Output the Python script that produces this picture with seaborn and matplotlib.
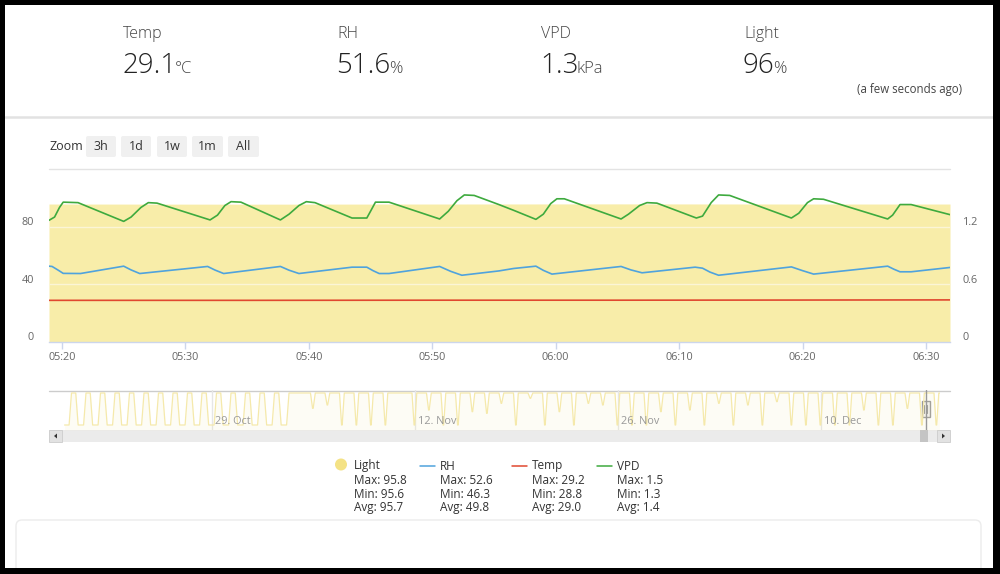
import matplotlib
matplotlib.use("Agg")
import matplotlib.pyplot as plt
import matplotlib.dates as mdates
import matplotlib.transforms as mtransforms
from matplotlib.patches import Rectangle, FancyBboxPatch, Circle, Polygon
import seaborn as sns
import pandas as pd

W, H = 1000, 574

# ── data ────────────────────────────────────────────────────────────────────
base = pd.Timestamp("2019-12-17 05:20")

vpd_min = [-1.05, -0.6, -0.2, 0.1, 1.3, 5.0, 5.6, 6.4, 7.0, 7.7, 12.0, 12.6, 13.2, 13.7, 14.5,
           17.7, 18.4, 19.2, 19.8, 20.5, 23.5, 24.7, 25.0, 25.4, 26.5, 30.6, 31.3, 32.0, 32.6, 33.4,
           35.4, 36.6, 38.4, 39.0, 39.6, 40.1, 40.7, 45.3, 45.9, 46.8, 47.4, 48.2, 51.4, 51.9, 52.6,
           53.2, 54.1, 59.1, 59.7, 60.4, 60.9, 61.7, 66.9, 67.3, 67.9, 68.8, 71.95]
vpd_val = [1.266, 1.30, 1.40, 1.455, 1.45, 1.255, 1.30, 1.40, 1.45, 1.445, 1.27, 1.32, 1.42, 1.46, 1.455,
           1.27, 1.33, 1.42, 1.46, 1.45, 1.29, 1.29, 1.36, 1.455, 1.455, 1.28, 1.36, 1.47, 1.53, 1.525,
           1.43, 1.37, 1.276, 1.33, 1.44, 1.49, 1.49, 1.28, 1.33, 1.42, 1.45, 1.445, 1.29, 1.31, 1.45,
           1.53, 1.525, 1.29, 1.34, 1.45, 1.49, 1.485, 1.28, 1.32, 1.43, 1.43, 1.325]

rh_min = [-1.05, -0.8, -0.3, 0.1, 1.5, 5.0, 5.6, 6.3, 11.8, 12.4, 13.1, 17.7, 18.4, 19.2,
          23.5, 24.7, 25.2, 25.7, 26.5, 30.6, 31.5, 32.4, 35.4, 36.6, 38.4, 39.0, 39.7,
          45.3, 46.1, 47.0, 51.3, 51.9, 52.5, 53.2, 59.1, 60.0, 60.9, 66.9, 67.4, 67.9, 68.8, 71.95]
rh_val = [52.6, 52.4, 49.8, 47.6, 47.5, 52.6, 50.0, 47.5, 52.4, 49.9, 47.5, 52.4, 49.8, 47.5,
          51.9, 51.9, 49.5, 47.5, 47.5, 52.4, 49.0, 46.3, 49.3, 51.0, 52.6, 49.7, 47.1,
          52.4, 50.0, 48.0, 51.9, 51.2, 48.5, 46.3, 52.1, 49.5, 47.1, 52.6, 50.5, 48.7, 48.7, 51.7]

temp_min = [-1.05, 15, 30, 45, 60, 71.95]
temp_val = [28.9, 28.9, 29.0, 29.0, 29.1, 29.2]

light_min = [-1.05, 15, 30, 45, 60, 71.95]
light_val = [95.7, 95.6, 95.7, 95.8, 95.7, 95.7]

stat_names = ["Temp", "RH", "VPD", "Light"]
stat_values = ["29.1", "51.6", "1.3", "96"]
stat_units = ["°C", "%", "kPa", "%"]

zoom_buttons = ["3h", "1d", "1w", "1m", "All"]

leg_names = ["Light", "RH", "Temp", "VPD"]
leg_max = ["95.8", "52.6", "29.2", "1.5"]
leg_min = ["95.6", "46.3", "28.8", "1.3"]
leg_avg = ["95.7", "49.8", "29.0", "1.4"]

# navigator: one entry per night (Oct 18 .. Dec 17), lowest light value, dark and ramp hours
nav_nights = pd.date_range("2019-10-18 23:00", "2019-12-17 23:00", freq="D")
nav_dip = [0] * 16 + [96] + [50, 60, 0, 0, 0, 0, 96, 0, 45, 0, 0, 40, 35, 65, 0, 80, 0, 40, 0, 65, 60, 0,
                             0, 0, 40, 0, 45, 0, 65, 0, 60, 0, 70, 0, 0, 0, 0, 0, 45, 0, 0, 50, 0, 0]
nav_dark_h = [9] * 16 + [0] + [1] * 44
nav_ramp_h = [4] * 17 + [3.5] * 44
nav_top = 96
nav_ticks = pd.to_datetime(["2019-10-29", "2019-11-12", "2019-11-26", "2019-12-10"])

c_rh, c_temp, c_vpd = "#4fa3dd", "#e0482f", "#3eaa3e"
c_light = "#f8eda9"

# ── helpers ─────────────────────────────────────────────────────────────────
def box(x0, y0, x1, y1):
    return [x0 / W, 1 - y1 / H, (x1 - x0) / W, (y1 - y0) / H]

def to_time(mins):
    return base + pd.to_timedelta(mins, unit="min")

sns.set_theme(style="white")
plt.rcParams["font.family"] = ["Open Sans", "DejaVu Sans"]

fig = plt.figure(figsize=(W / 100, H / 100), dpi=100, facecolor="white")

bg = fig.add_axes([0, 0, 1, 1], zorder=0)
bg.set_xlim(0, W)
bg.set_ylim(H, 0)
bg.axis("off")

# ── header ──────────────────────────────────────────────────────────────────
renderer = fig.canvas.get_renderer()
for name, val, unit, x in zip(stat_names, stat_values, stat_units, [122, 336, 540, 743]):
    bg.text(x + 1, 38, name, fontsize=11.5, color="#444444", va="baseline", fontweight="light")
    t = bg.text(x, 73, val, fontsize=20, color="#222222", va="baseline", fontweight="light")
    bb = t.get_window_extent(renderer)
    bg.text(bb.x1 - 1.5, 73, unit, fontsize=12, color="#444444", va="baseline", fontweight="light")
bg.text(962, 93, "(a few seconds ago)", fontsize=8.3, color="#444444", ha="right", va="baseline")
bg.plot([5, 993], [116.5, 116.5], color="#e2e2e2", lw=1.8)

# zoom buttons
bg.text(49, 146.5, "Zoom", fontsize=9, color="#333333", va="center")
for lab, (x0, x1) in zip(zoom_buttons, [(86, 116), (121, 151), (157, 187), (192, 223), (228, 259)]):
    bg.add_patch(FancyBboxPatch((x0, 136), x1 - x0, 21, boxstyle="round,pad=0,rounding_size=2",
                                fc="#f0f0f0", ec="none"))
    bg.text((x0 + x1) / 2, 146.5, lab, fontsize=9, color="#333333", ha="center", va="center")

# ── main chart ──────────────────────────────────────────────────────────────
ax = fig.add_axes(box(49, 169, 950, 342), zorder=2)
ax.set_facecolor("none")
light_t = to_time(light_min)
ax.fill_between(light_t, light_val, color=c_light, lw=0, zorder=1)
for v in (40, 80):
    ax.axhline(v, color="#fbf5d6", lw=1, zorder=1.5)
ax.axhline(120, color="#e3e3e3", lw=1, clip_on=False, zorder=1)
sns.lineplot(x=to_time(rh_min), y=rh_val, ax=ax, color=c_rh, lw=1.2, zorder=3)
sns.lineplot(x=to_time(temp_min), y=temp_val, ax=ax, color=c_temp, lw=1.2, zorder=3)
ax.set_ylim(0, 120)
ax.set_yticks([0, 40, 80, 120])
ax.set_yticklabels(["0", "40", "80", ""])
ax.set_xlim(to_time(-1.05), to_time(71.95))
ax.xaxis.set_major_locator(mdates.MinuteLocator(byminute=range(0, 60, 10)))
ax.xaxis.set_major_formatter(mdates.DateFormatter("%H:%M"))
ax.set_xlabel("")
ax.set_ylabel("")
for s in ["top", "right", "left"]:
    ax.spines[s].set_visible(False)
ax.spines["bottom"].set_color("#ccd6eb")
ax.spines["bottom"].set_linewidth(1)
ax.tick_params(axis="x", bottom=True, length=5, width=1, color="#ccd6eb",
               labelsize=7.8, labelcolor="#666666", pad=2.5)
ax.tick_params(axis="y", left=True, length=0, labelsize=7.8, labelcolor="#666666", pad=11)

ax2 = ax.twinx()
ax2.set_facecolor("none")
sns.lineplot(x=to_time(vpd_min), y=vpd_val, ax=ax2, color=c_vpd, lw=1.2)
ax2.set_ylim(0, 1.8)
ax2.set_yticks([0, 0.6, 1.2])
ax2.set_yticklabels(["0", "0.6", "1.2"])
ax2.set_ylabel("")
for s in ax2.spines.values():
    s.set_visible(False)
ax2.tick_params(axis="y", right=True, length=0, labelsize=7.8, labelcolor="#666666", pad=9)

off = mtransforms.ScaledTranslation(0, 0.055, fig.dpi_scale_trans)
for lab in ax.get_yticklabels() + ax2.get_yticklabels():
    lab.set_transform(lab.get_transform() + off)

# ── navigator ───────────────────────────────────────────────────────────────
nav_start = pd.Timestamp("2019-10-17 18:15")
nav_end = pd.Timestamp("2019-12-18 21:30")
nav_t, nav_v = [nav_nights[0] - pd.Timedelta(hours=3)], [nav_dip[0]]
for i, (c, d, dk, r) in enumerate(zip(nav_nights, nav_dip, nav_dark_h, nav_ramp_h)):
    half = pd.Timedelta(hours=dk / 2)
    ramp = pd.Timedelta(hours=r)
    if i > 0:
        nav_t += [c - half - ramp, c - half]
        nav_v += [nav_top, d]
    nav_t += [c + half, c + half + ramp]
    nav_v += [d, nav_top]
nav_t.append(nav_t[-1] + pd.Timedelta(hours=1))
nav_v.append(nav_top)

nav = fig.add_axes(box(49, 390, 950, 430), zorder=2)
nav.set_facecolor("none")
for d in nav_ticks:
    nav.axvline(d, color="#e6e6e6", lw=1, zorder=0)
nav.fill_between(nav_t, nav_v, -15, color="#f5e89e", alpha=0.1, lw=0)
sns.lineplot(x=nav_t, y=nav_v, ax=nav, color="#f5e9ab", lw=0.9)
nav.set_xlim(nav_start, nav_end)
nav.set_ylim(-15, 105)
nav.set_xticks([])
nav.set_yticks([])
nav.set_xlabel("")
nav.set_ylabel("")
for s in nav.spines.values():
    s.set_visible(False)
lab_tr = mtransforms.blended_transform_factory(nav.transData, nav.transAxes) + \
    mtransforms.ScaledTranslation(0.03, 0, fig.dpi_scale_trans)
for d in nav_ticks:
    nav.text(d, 0.15, d.strftime("%-d. %b"), transform=lab_tr, fontsize=7.8,
             color="#999999", va="baseline")
sel = to_time(-1.05)
nav.axvline(sel, color="#999999", lw=1)
bg.plot([49, 950], [390.5, 390.5], color="#cccccc", lw=1)

fx = (sel - nav_start) / (nav_end - nav_start)
hx = 49 + fx * 901

# scrollbar
bg.add_patch(Rectangle((49, 430), 901, 12, fc="#ebebeb", ec="none"))
bg.add_patch(Rectangle((49, 430), 13, 12, fc="#e2e2e2", ec="#cccccc", lw=0.6))
bg.add_patch(Polygon([(54, 436), (57, 433.5), (57, 438.5)], closed=True, fc="#333333", ec="none"))
bg.add_patch(Rectangle((937, 430), 13, 12, fc="#e2e2e2", ec="#cccccc", lw=0.6))
bg.add_patch(Polygon([(945, 436), (942, 433.5), (942, 438.5)], closed=True, fc="#333333", ec="none"))
bg.add_patch(Rectangle((hx - 6, 430), 8, 12, fc="#c4c4c4", ec="none"))

# handle
bg.add_patch(Rectangle((hx - 4, 401), 8, 16, fc="#f2f2f2", ec="#999999", lw=1, zorder=5))
for dx in (-1.5, 1.5):
    bg.plot([hx + dx, hx + dx], [405, 413], color="#999999", lw=0.8, zorder=6)

# ── legend ──────────────────────────────────────────────────────────────────
leg_x = [341, 420, 512, 597]
leg_cols = [None, c_rh, c_temp, c_vpd]
for name, mx, mn, av, x, col in zip(leg_names, leg_max, leg_min, leg_avg, leg_x, leg_cols):
    if col is None:
        bg.add_patch(Circle((x, 464.5), 6, fc="#f4e285", ec="none"))
        tx = x + 13
    else:
        bg.plot([x, x + 15], [465.5, 465.5], color=col, lw=1.1)
        tx = x + 20
    for row, txt in zip([466, 480, 494, 508], [name, "Max: " + mx, "Min: " + mn, "Avg: " + av]):
        bg.text(tx, row, txt, fontsize=8.5, color="#333333", va="center")

# bottom card
bg.add_patch(FancyBboxPatch((16, 520), 965, 70, boxstyle="round,pad=0,rounding_size=6",
                            fc="white", ec="#ececec", lw=1))

# black frame
for r in [(0, 0, 1000, 5), (0, 0, 5, 574), (993, 0, 7, 574), (0, 568, 1000, 6)]:
    bg.add_patch(Rectangle((r[0], r[1]), r[2], r[3], fc="black", ec="none", zorder=10))

fig.savefig("out.png", dpi=100, facecolor="white")
